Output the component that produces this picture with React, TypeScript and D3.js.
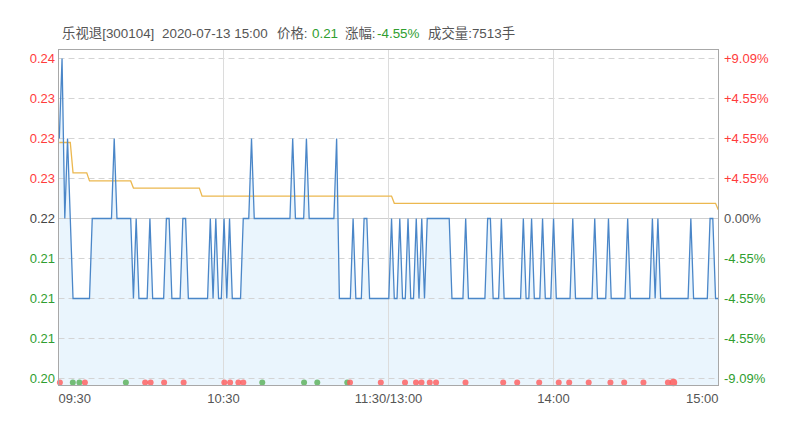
import React from 'react';
import * as d3 from 'd3';

// ---- data ----
const stockTitle = '乐视退[300104]';
const stampText = '2020-07-13 15:00';
const lastPrice = '0.21';
const changePct = '-4.55%';
const volumeText = '成交量:7513手';

// minute-by-minute price, 241 points (09:30-11:30, 13:00-15:00)
const prices: number[] = [
  0.23, 0.24, 0.22, 0.23, 0.22, 0.21, 0.21, 0.21, 0.21, 0.21,
  0.21, 0.21, 0.22, 0.22, 0.22, 0.22, 0.22, 0.22, 0.22, 0.22,
  0.23, 0.22, 0.22, 0.22, 0.22, 0.22, 0.22, 0.21, 0.22, 0.21,
  0.21, 0.21, 0.21, 0.22, 0.21, 0.21, 0.21, 0.21, 0.21, 0.22,
  0.22, 0.21, 0.21, 0.21, 0.21, 0.22, 0.22, 0.21, 0.21, 0.21,
  0.21, 0.21, 0.21, 0.21, 0.21, 0.22, 0.21, 0.22, 0.21, 0.21,
  0.22, 0.21, 0.22, 0.21, 0.21, 0.21, 0.21, 0.22, 0.22, 0.22,
  0.23, 0.22, 0.22, 0.22, 0.22, 0.22, 0.22, 0.22, 0.22, 0.22,
  0.22, 0.22, 0.22, 0.22, 0.22, 0.23, 0.22, 0.22, 0.22, 0.22,
  0.23, 0.22, 0.22, 0.22, 0.22, 0.22, 0.22, 0.22, 0.22, 0.22,
  0.22, 0.23, 0.21, 0.21, 0.21, 0.21, 0.21, 0.22, 0.21, 0.21,
  0.21, 0.22, 0.22, 0.21, 0.21, 0.21, 0.21, 0.21, 0.21, 0.21,
  0.21, 0.22, 0.21, 0.21, 0.22, 0.21, 0.21, 0.22, 0.21, 0.21,
  0.22, 0.21, 0.22, 0.21, 0.22, 0.22, 0.22, 0.22, 0.22, 0.22,
  0.22, 0.22, 0.22, 0.21, 0.21, 0.21, 0.21, 0.21, 0.22, 0.21,
  0.21, 0.21, 0.21, 0.21, 0.21, 0.21, 0.22, 0.22, 0.21, 0.21,
  0.21, 0.22, 0.21, 0.21, 0.21, 0.21, 0.21, 0.21, 0.21, 0.22,
  0.21, 0.21, 0.22, 0.21, 0.21, 0.21, 0.22, 0.21, 0.21, 0.21,
  0.22, 0.21, 0.21, 0.21, 0.21, 0.21, 0.21, 0.22, 0.21, 0.21,
  0.21, 0.21, 0.21, 0.21, 0.21, 0.22, 0.21, 0.21, 0.21, 0.21,
  0.22, 0.21, 0.21, 0.21, 0.21, 0.21, 0.21, 0.22, 0.21, 0.21,
  0.21, 0.21, 0.21, 0.21, 0.21, 0.21, 0.22, 0.21, 0.22, 0.21,
  0.21, 0.21, 0.21, 0.21, 0.21, 0.21, 0.21, 0.21, 0.21, 0.21,
  0.22, 0.21, 0.21, 0.21, 0.21, 0.21, 0.21, 0.22, 0.22, 0.21,
  0.21,
];

// average price line, 241 points
const avgPrices: number[] = [
  0.2295, 0.2295, 0.2295, 0.2295, 0.2295, 0.2257, 0.2257, 0.2257, 0.2257, 0.2257,
  0.2257, 0.2247, 0.2247, 0.2247, 0.2247, 0.2247, 0.2247, 0.2247, 0.2247, 0.2247,
  0.2247, 0.2247, 0.2247, 0.2247, 0.2247, 0.2247, 0.2247, 0.2238, 0.2238, 0.2238,
  0.2238, 0.2238, 0.2238, 0.2238, 0.2238, 0.2238, 0.2238, 0.2238, 0.2238, 0.2238,
  0.2238, 0.2238, 0.2238, 0.2238, 0.2238, 0.2238, 0.2238, 0.2238, 0.2238, 0.2238,
  0.2238, 0.2238, 0.2228, 0.2228, 0.2228, 0.2228, 0.2228, 0.2228, 0.2228, 0.2228,
  0.2228, 0.2228, 0.2228, 0.2228, 0.2228, 0.2228, 0.2228, 0.2228, 0.2228, 0.2228,
  0.2228, 0.2228, 0.2228, 0.2228, 0.2228, 0.2228, 0.2228, 0.2228, 0.2228, 0.2228,
  0.2228, 0.2228, 0.2228, 0.2228, 0.2228, 0.2228, 0.2228, 0.2228, 0.2228, 0.2228,
  0.2228, 0.2228, 0.2228, 0.2228, 0.2228, 0.2228, 0.2228, 0.2228, 0.2228, 0.2228,
  0.2228, 0.2228, 0.2228, 0.2228, 0.2228, 0.2228, 0.2228, 0.2228, 0.2228, 0.2228,
  0.2228, 0.2228, 0.2228, 0.2228, 0.2228, 0.2228, 0.2228, 0.2228, 0.2228, 0.2228,
  0.2228, 0.2228, 0.2219, 0.2219, 0.2219, 0.2219, 0.2219, 0.2219, 0.2219, 0.2219,
  0.2219, 0.2219, 0.2219, 0.2219, 0.2219, 0.2219, 0.2219, 0.2219, 0.2219, 0.2219,
  0.2219, 0.2219, 0.2219, 0.2219, 0.2219, 0.2219, 0.2219, 0.2219, 0.2219, 0.2219,
  0.2219, 0.2219, 0.2219, 0.2219, 0.2219, 0.2219, 0.2219, 0.2219, 0.2219, 0.2219,
  0.2219, 0.2219, 0.2219, 0.2219, 0.2219, 0.2219, 0.2219, 0.2219, 0.2219, 0.2219,
  0.2219, 0.2219, 0.2219, 0.2219, 0.2219, 0.2219, 0.2219, 0.2219, 0.2219, 0.2219,
  0.2219, 0.2219, 0.2219, 0.2219, 0.2219, 0.2219, 0.2219, 0.2219, 0.2219, 0.2219,
  0.2219, 0.2219, 0.2219, 0.2219, 0.2219, 0.2219, 0.2219, 0.2219, 0.2219, 0.2219,
  0.2219, 0.2219, 0.2219, 0.2219, 0.2219, 0.2219, 0.2219, 0.2219, 0.2219, 0.2219,
  0.2219, 0.2219, 0.2219, 0.2219, 0.2219, 0.2219, 0.2219, 0.2219, 0.2219, 0.2219,
  0.2219, 0.2219, 0.2219, 0.2219, 0.2219, 0.2219, 0.2219, 0.2219, 0.2219, 0.2219,
  0.2219, 0.2219, 0.2219, 0.2219, 0.2219, 0.2219, 0.2219, 0.2219, 0.2219, 0.2219,
  0.2211,
];

const leftTickValues = [0.24, 0.235, 0.23, 0.225, 0.22, 0.215, 0.21, 0.205, 0.2];
const leftTickLabels = ['0.24', '0.23', '0.23', '0.23', '0.22', '0.21', '0.21', '0.21', '0.20'];
const rightTickLabels = ['+9.09%', '+4.55%', '+4.55%', '+4.55%', '0.00%', '-4.55%', '-4.55%', '-4.55%', '-9.09%'];
const tickSign = [1, 1, 1, 1, 0, -1, -1, -1, -1];

const timeTickIndex = [0, 60, 120, 180, 240];
const timeTickLabels = ['09:30', '10:30', '11:30/13:00', '14:00', '15:00'];

// big-trade markers: minute position and side
const redDots = [0.5, 9.6, 31.5, 33.5, 38.4, 45.5, 60.3, 62.4, 65.4, 67.2, 106, 117.2, 126, 130, 132, 135, 137.3, 148, 161.7, 166.8, 174.8, 181.9, 185.7, 192.8, 200.7, 205.7, 212.7, 221.6];
const greenDots = [5.2, 7.6, 24.5, 74.1, 89.3, 94.1, 105];
const bigRedDots = [223.6];

// ---- styles ----
const RED = '#ff3b3b';
const GREEN = '#2f9e2f';
const FONT = '"Liberation Sans", Arial, "Noto Sans CJK SC", sans-serif';

export default function App() {
  const W = 793, H = 427;
  const left = 58.5, right = 718.5, top = 49.5, bottom = 385.5;
  const x = d3.scaleLinear().domain([0, 240]).range([left, right]);
  const xl = d3.scaleLinear().domain([0, 240]).range([59.3, 718.3]);
  const y = d3.scaleLinear().domain([0.2, 0.24]).range([378.5, 58.5]);

  const line = d3.line<number>().x((_, i) => xl(i)).y((d) => y(d));
  const area = d3.area<number>().x((_, i) => xl(i)).y0(bottom).y1((d) => y(d));
  const dotY = 382.5;

  const colorFor = (s: number) => (s > 0 ? RED : s < 0 ? GREEN : '#444');

  return (
    <svg width={W} height={H} style={{ position: 'absolute', left: 0, top: 0, background: '#fff' }} fontFamily={FONT}>
      {/* header */}
      <text x={62} y={38} fontSize={13.4} fill="#555">
        <tspan>{stockTitle}</tspan>
        <tspan x={162}>{stampText}</tspan>
        <tspan x={277}>价格:</tspan>
        <tspan x={312} fill={GREEN}>{lastPrice}</tspan>
        <tspan x={345}>涨幅:</tspan>
        <tspan x={377} fill={GREEN}>{changePct}</tspan>
        <tspan x={428}>{volumeText}</tspan>
      </text>

      {/* area */}
      <path d={area(prices) || ''} fill="#eaf5fd" />

      {/* horizontal grid */}
      {leftTickValues.map((v, i) => (
        <line key={'h' + i} x1={left} x2={right} y1={y(v)} y2={y(v)}
          stroke={i === 4 ? '#cfcfcf' : '#d4d4d4'} strokeWidth={1}
          strokeDasharray={i === 4 ? undefined : '6,4'} />
      ))}
      {/* vertical grid */}
      {timeTickIndex.slice(1, 4).map((t) => (
        <line key={'v' + t} x1={x(t)} x2={x(t)} y1={top} y2={bottom} stroke="#dcdcdc" strokeWidth={1} />
      ))}

      {/* avg line */}
      <path d={line(avgPrices) || ''} fill="none" stroke="#ecb84f" strokeWidth={1.3} />
      {/* price line */}
      <path d={line(prices) || ''} fill="none" stroke="#4a86c8" strokeWidth={1.3} />

      {/* dots */}
      {greenDots.map((m, i) => (
        <circle key={'g' + i} cx={x(m)} cy={dotY} r={3} fill="#5fb35f" fillOpacity={0.85} />
      ))}
      {redDots.map((m, i) => (
        <circle key={'r' + i} cx={x(m)} cy={dotY} r={3} fill="#ff5a5a" fillOpacity={0.8} />
      ))}
      {bigRedDots.map((m, i) => (
        <circle key={'b' + i} cx={x(m)} cy={dotY} r={3.8} fill="#ff5a5a" fillOpacity={0.85} />
      ))}

      {/* frame */}
      <rect x={left} y={top} width={right - left} height={bottom - top} fill="none" stroke="#a8a8a8" strokeWidth={1} />

      {/* left axis labels */}
      {leftTickValues.map((v, i) => (
        <text key={'l' + i} x={55} y={y(v)} dy="0.35em" textAnchor="end" fontSize={13} fill={colorFor(tickSign[i])}>
          {leftTickLabels[i]}
        </text>
      ))}
      {/* right axis labels */}
      {leftTickValues.map((v, i) => (
        <text key={'rt' + i} x={724} y={y(v)} dy="0.35em" textAnchor="start" fontSize={13} fill={tickSign[i] === 0 ? '#555' : colorFor(tickSign[i])}>
          {rightTickLabels[i]}
        </text>
      ))}
      {/* time labels */}
      {timeTickIndex.map((t, i) => (
        <text key={'t' + i} x={i === 0 ? left : i === 4 ? right : x(t)} y={403}
          textAnchor={i === 0 ? 'start' : i === 4 ? 'end' : 'middle'} fontSize={13} fill="#555">
          {timeTickLabels[i]}
        </text>
      ))}
    </svg>
  );
}
